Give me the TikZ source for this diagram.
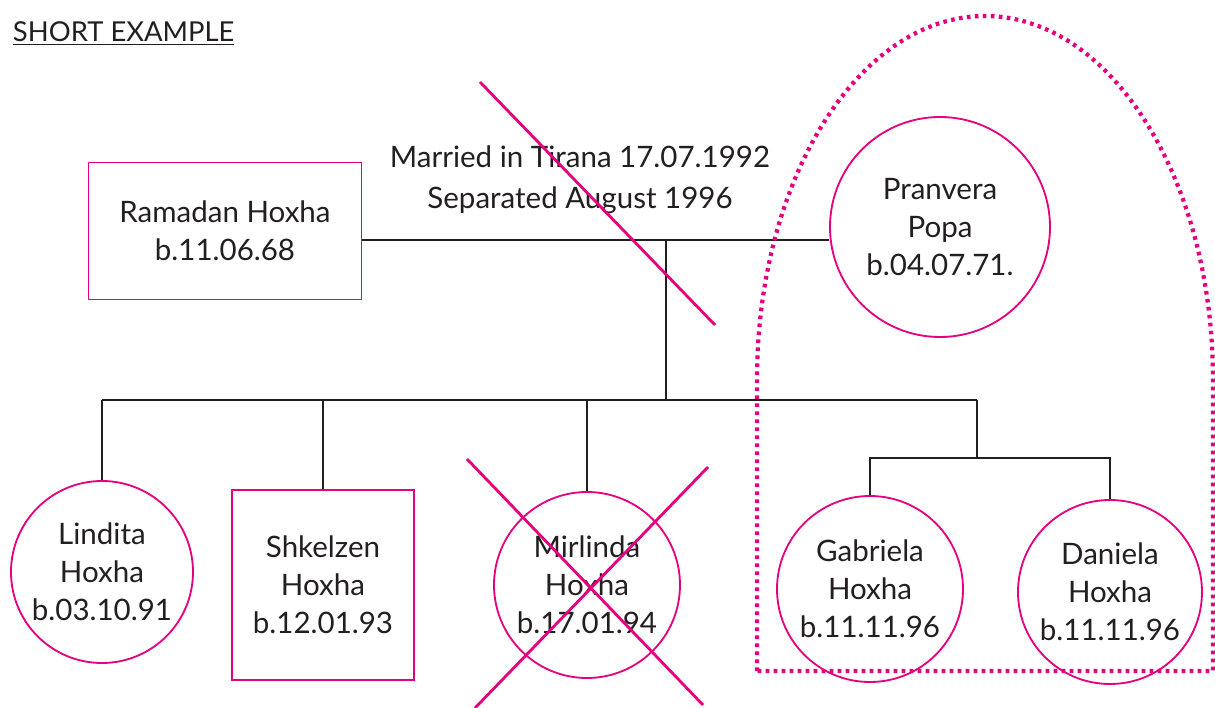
\documentclass[tikz,border=0pt]{standalone}
\usepackage{fontspec}
\setmainfont{Lato}
\usepackage{xcolor}
\usepackage{tikz}
\usetikzlibrary{positioning, calc}

\definecolor{famPink}{HTML}{E5007D}
\definecolor{famInk}{HTML}{231F20}

\begin{document}
\begin{tikzpicture}[
          x=0.25mm, y=-0.25mm,
          every node/.style={text=famInk, font=\fontsize{21}{27}\selectfont, align=center},
          male/.style={rectangle, draw=famPink, line width=1.3pt, inner sep=0pt},
          female/.style={circle, draw=famPink, line width=1.3pt, inner sep=0pt},
          tie/.style={draw=famInk, line width=1.3pt},
          strike/.style={draw=famPink, line width=2pt},
          group/.style={draw=famPink, line width=3pt, dash pattern=on 0.9mm off 1.1mm}
        ]
          \useasboundingbox (0,0) rectangle (1215,708);

          % title
          \node[anchor=base west, font=\fontsize{19.5}{22}\selectfont] (title) at (8,42) {\underline{SHORT EXAMPLE}};

          % parents
          \node[male, minimum width=68.25mm, minimum height=34.25mm] (ramadan) at (225,231) {Ramadan Hoxha\\b.11.06.68};
          \node[female, minimum size=55mm] (pranvera) at (940,227) {Pranvera\\Popa\\b.04.07.71.};
          \node[font=\fontsize{21}{29}\selectfont] (marriage) at (580,180) {Married in Tirana 17.07.1992\\Separated August 1996};

          % children
          \node[female, minimum size=45.5mm] (lindita) at (102,572) {Lindita\\Hoxha\\b.03.10.91};
          \node[male, minimum width=45.5mm, minimum height=47.5mm] (shkelzen) at (323,585) {Shkelzen\\Hoxha\\b.12.01.93};
          \node[female, minimum size=46.5mm] (mirlinda) at (587,585) {Mirlinda\\Hoxha\\b.17.01.94};
          \node[female, minimum size=46.5mm] (gabriela) at (870,589) {Gabriela\\Hoxha\\b.11.11.96};
          \node[female, minimum size=46mm] (daniela) at (1110,592) {Daniela\\Hoxha\\b.11.11.96};

          \coordinate (marr) at (666,240);
          \coordinate (bar) at (666,400);
          \coordinate (twins) at (977,458);

          % family lines
          \draw[tie] (ramadan.east |- marr) -- (pranvera.west |- marr);
          \draw[tie] (marr) -- (bar);
          \draw[tie] (lindita.north |- bar) -- (twins |- bar);
          \draw[tie] (lindita.north |- bar) -- (lindita.north);
          \draw[tie] (shkelzen.north |- bar) -- (shkelzen.north);
          \draw[tie] (mirlinda.north |- bar) -- (mirlinda.north);
          \draw[tie] (twins |- bar) -- (twins);
          \draw[tie] (gabriela.north) -- (gabriela.north |- twins) -- (daniela.north |- twins) -- (daniela.north);

          % crossings out
          \draw[strike] (480,82) -- (715,325);
          \draw[strike] (467,459) -- (703,705);
          \draw[strike] (708,467) -- (475,708);

          % household of the mother
          \draw[group] (757,671) -- (757,380) arc[start angle=180, end angle=0, x radius=228, y radius=-364] -- (1213,671) -- cycle;
        \end{tikzpicture}
\end{document}
